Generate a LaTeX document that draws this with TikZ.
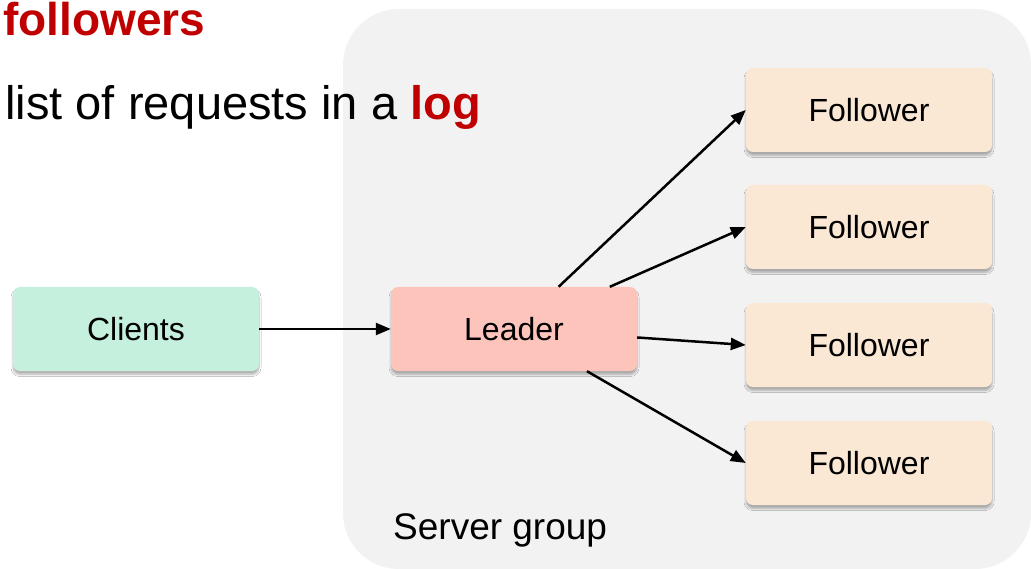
\documentclass[tikz,border=0pt]{standalone}
\usepackage{fontspec}
\setmainfont{Liberation Sans}
\usetikzlibrary{arrows.meta,shadows.blur}
\definecolor{grp}{HTML}{F2F2F2}
\definecolor{cli}{HTML}{C5F0DE}
\definecolor{lead}{HTML}{FDC4BC}
\definecolor{fol}{HTML}{FAE8D5}
\definecolor{hl}{HTML}{C00000}
\tikzset{
  box/.style={rectangle, rounded corners=7pt, minimum width=246pt, minimum height=84pt,
    inner sep=0pt, font=\fontsize{32}{38}\selectfont,
    blur shadow={shadow xshift=0pt, shadow yshift=-3.5pt, shadow blur steps=6, shadow opacity=30, shadow blur radius=2pt}},
  conn/.style={line width=2.5pt, -{Triangle[length=15pt,width=12pt]}},
}
\begin{document}
\begin{tikzpicture}[x=1pt,y=-1pt]
\useasboundingbox (0,0) rectangle (1031,569);
\fill[white] (0,0) rectangle (1031,569);
\fill[grp, rounded corners=56pt] (343,9) rectangle (1031,569);
\node[anchor=base west, font=\fontsize{46}{55}\selectfont\bfseries, text=hl, inner sep=0pt] (t1) at (3,36) {followers};
\node[anchor=base east, font=\fontsize{47}{56}\selectfont, inner sep=0pt] (t2) at (481,120) {list of requests in a \textbf{\color{hl}log}};
\node[box, fill=cli] (clients) at (136,329) {Clients};
\node[box, fill=lead] (leader) at (514,329) {Leader};
\node[box, fill=fol] (f1) at (869,110) {Follower};
\node[box, fill=fol] (f2) at (869,227) {Follower};
\node[box, fill=fol] (f3) at (869,345) {Follower};
\node[box, fill=fol] (f4) at (869,463) {Follower};
\node[anchor=base west, font=\fontsize{37}{44}\selectfont, inner sep=0pt] (sg) at (393,539) {Server group};
\draw[conn] (clients) -- (leader);
\draw[conn] (leader) -- (f1.west);
\draw[conn] (leader) -- (f2.west);
\draw[conn] (leader) -- (f3.west);
\draw[conn] (leader) -- (f4.west);
\end{tikzpicture}
\end{document}
